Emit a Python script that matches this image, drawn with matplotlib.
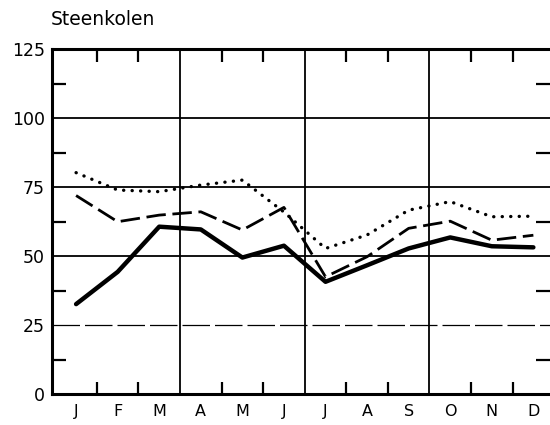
import numpy as np
import matplotlib
matplotlib.use("Agg")
import matplotlib.pyplot as plt

# Monthly index values
months = ["J", "F", "M", "A", "M", "J", "J", "A", "S", "O", "N", "D"]
solid_vals = [32.6, 44.3, 60.7, 59.7, 49.5, 53.8, 40.7, 46.7, 52.8, 56.8, 53.6, 53.2]
dashed_vals = [72.0, 62.5, 64.9, 66.1, 59.5, 67.7, 42.5, 49.8, 60.1, 62.7, 55.8, 57.6]
dotted_vals = [80.3, 74.0, 73.4, 75.8, 77.6, 66.0, 52.8, 57.7, 66.7, 69.8, 64.3, 64.5]
title = "Steenkolen"

fig = plt.figure(figsize=(5.5, 4.25), dpi=100)
ax = fig.add_axes([0.0945, 0.073, 0.9055, 0.8106])

x = np.arange(len(months))
ax.set_xlim(-0.58, 11.40)
ax.set_ylim(0, 125)

# grid: horizontal at 25-steps, vertical at quarter boundaries
for yv in [50, 75, 100]:
    ax.axhline(yv, color="black", lw=1.3, zorder=1)
ax.axhline(25, color="black", lw=0.9, dashes=(22, 4), zorder=1)
for xv in [2.5, 5.5, 8.5]:
    ax.axvline(xv, color="black", lw=1.3, zorder=1)

ax.plot(x, dotted_vals, color="black", lw=2.4, linestyle=(0, (0.05, 2.5)),
        dash_capstyle="round", solid_capstyle="round", zorder=3)
ax.plot(x, dashed_vals, color="black", lw=2.0, linestyle=(0, (7, 2.4)), zorder=3)
ax.plot(x, solid_vals, color="black", lw=3.2, solid_capstyle="round",
        solid_joinstyle="round", zorder=4)

for side in ["left", "bottom", "top"]:
    ax.spines[side].set_linewidth(2.2)
ax.spines["right"].set_visible(False)

# month labels with no tick marks, tick marks on month boundaries
ax.set_xticks(x)
ax.set_xticklabels(months, fontsize=11.5)
ax.tick_params(axis="x", which="major", length=0, pad=7)
ax.set_xticks([0.5, 1.5, 3.5, 4.5, 6.5, 7.5, 9.5, 10.5], minor=True)
ax.tick_params(axis="x", which="minor", direction="in", length=9, width=1.6,
               top=True, bottom=True)

ax.set_yticks([0, 25, 50, 75, 100, 125])
ax.set_yticklabels(["0", "25", "50", "75", "100", "125"], fontsize=12.5)
ax.tick_params(axis="y", which="major", length=0, pad=5)
ax.set_yticks([12.5, 37.5, 62.5, 87.5, 112.5], minor=True)
ax.tick_params(axis="y", which="minor", direction="in", length=10, width=1.6,
               left=True, right=True)

fig.text(0.093, 0.953, title, fontsize=13.5, ha="left", va="center")

fig.savefig("out.png", dpi=100)
